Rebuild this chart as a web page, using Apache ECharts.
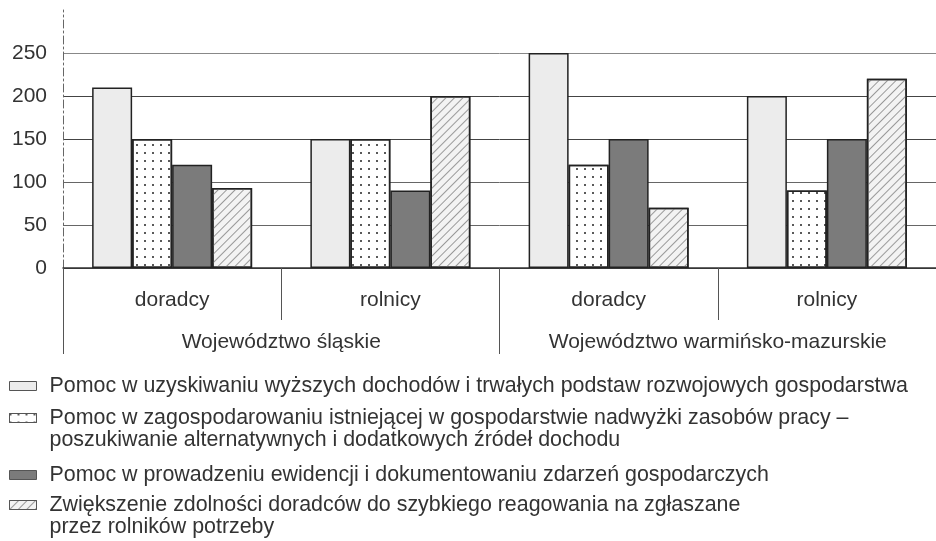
<!DOCTYPE html>
<html>
<head>
<meta charset="utf-8">
<script src="https://cdn.jsdelivr.net/npm/echarts@6/dist/echarts.min.js"></script>
<style>
  html, body { margin: 0; padding: 0; background: #fff; }
  #chart { width: 936px; height: 541px; }
</style>
</head>
<body>
<div id="chart"></div>
<script>
// dane
const groupCategories = ['doradcy', 'rolnicy', 'doradcy', 'rolnicy'];
const regions = ['Województwo śląskie', 'Województwo warmińsko-mazurskie'];

const seriesNames = [
    'Pomoc w uzyskiwaniu wyższych dochodów i trwałych podstaw rozwojowych gospodarstwa',
    'Pomoc w zagospodarowaniu istniejącej w gospodarstwie nadwyżki zasobów pracy –\nposzukiwanie alternatywnych i dodatkowych źródeł dochodu',
    'Pomoc w prowadzeniu ewidencji i dokumentowaniu zdarzeń gospodarczych',
    'Zwiększenie zdolności doradców do szybkiego reagowania na zgłaszane\nprzez rolników potrzeby'
];

const dochody = [210, 150, 250, 200];
const zasobyPracy = [150, 150, 120, 90];
const ewidencja = [120, 90, 150, 150];
const reagowanie = [93, 200, 70, 220];

const yTicks = [0, 50, 100, 150, 200, 250];

const FONT = 'Liberation Sans, Arial, sans-serif';
const TXT = '#333';

const chart = echarts.init(document.getElementById('chart'), null, { renderer: 'canvas' });

function bar(name, data, color, decal) {
    const s = {
        name: name,
        type: 'bar',
        xAxisIndex: 0,
        data: data,
        barWidth: 40,
        barGap: '0%',
        itemStyle: {
            color: color,
            borderColor: '#222',
            borderWidth: 1.5
        }
    };
    if (decal) s.itemStyle.decal = decal;
    return s;
}

// kropki
const dots = {
    symbol: 'circle',
    symbolSize: 1,
    dashArrayX: [1.8, 5.6],
    dashArrayY: [1.8, 5.8],
    color: '#222'
};

// ukośne kreski
const hatch = {
    symbol: 'rect',
    symbolSize: 1,
    dashArrayX: [1, 0],
    dashArrayY: [1, 4.5],
    rotation: -Math.PI / 4,
    color: '#999'
};

const legendBase = {
    type: 'plain',
    orient: 'vertical',
    left: 9,
    padding: 0,
    icon: 'rect',
    itemWidth: 27,
    itemHeight: 9,
    selectedMode: false,
    itemStyle: { borderWidth: 1, borderColor: '#555' }
};

const option = {
    animation: false,
    backgroundColor: '#fff',
    textStyle: { fontFamily: FONT },
    grid: {
        left: 63,
        top: 10,
        width: 880,
        height: 258,
        containLabel: false
    },
    legend: [
        Object.assign({}, legendBase, {
            data: [seriesNames[0], seriesNames[2]],
            top: 375,
            itemGap: 67,
            textStyle: { fontFamily: FONT, fontSize: 21.4, color: TXT, lineHeight: 22, padding: [0, 0, 0, 8] }
        }),
        Object.assign({}, legendBase, {
            data: [seriesNames[1], seriesNames[3]],
            top: 385,
            itemGap: 21,
            // pusta linia na górze, żeby ikonka stała przy pierwszym wierszu
            formatter: function (name) { return '\n' + name; },
            textStyle: { fontFamily: FONT, fontSize: 21.4, color: TXT, lineHeight: 22, padding: [0, 0, 0, 8] }
        })
    ],
    xAxis: [
        {
            type: 'category',
            position: 'bottom',
            data: groupCategories,
            axisLine: { lineStyle: { color: '#333', width: 1.5 } },
            axisTick: { show: true, interval: 0, length: 52, lineStyle: { color: '#555', width: 1 } },
            axisLabel: { interval: 0, margin: 22, fontSize: 21, color: TXT, fontFamily: FONT }
        },
        {
            type: 'category',
            position: 'bottom',
            data: regions,
            axisLine: { show: false },
            axisTick: { show: true, interval: 0, length: 86, lineStyle: { color: '#555', width: 1 } },
            axisLabel: { interval: 0, margin: 64, fontSize: 21, color: TXT, fontFamily: FONT }
        }
    ],
    yAxis: {
        type: 'value',
        min: 0,
        max: 300,
        interval: 50,
        axisLine: { show: true, lineStyle: { color: '#666', type: [8, 3, 2, 3] } },
        axisTick: { show: false },
        axisLabel: {
            margin: 16,
            fontSize: 21,
            color: TXT,
            fontFamily: FONT,
            formatter: function (v) { return yTicks.indexOf(v) >= 0 ? String(v) : ''; }
        },
        splitLine: {
            lineStyle: {
                color: ['#444', '#666', '#666', '#444', '#444', '#888', 'rgba(0,0,0,0)'],
                width: 1
            }
        }
    },
    series: [
        bar(seriesNames[0], dochody, '#ececec'),
        bar(seriesNames[1], zasobyPracy, '#ffffff', dots),
        bar(seriesNames[2], ewidencja, '#7b7b7b'),
        bar(seriesNames[3], reagowanie, '#f3f3f3', hatch)
    ]
};

chart.setOption(option);
</script>
</body>
</html>
